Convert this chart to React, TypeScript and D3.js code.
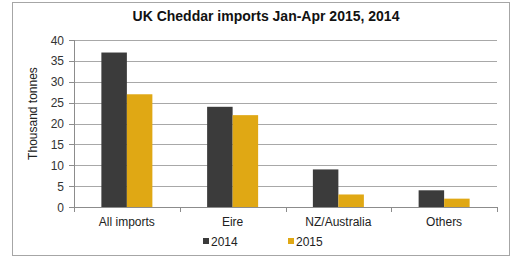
import React from "react";
import * as d3 from "d3";

const categories = ["All imports", "Eire", "NZ/Australia", "Others"];
const seriesNames = ["2014", "2015"];
const values2014 = [37, 24, 9, 4];
const values2015 = [27, 22, 3, 2];
const yTicks = [0, 5, 10, 15, 20, 25, 30, 35, 40];
const colors = ["#3b3b3b", "#e0a814"];

export default function App() {
  const W = 516, H = 261;
  const left = 74, right = 497, top = 40, bottom = 207;
  const x = d3.scaleBand().domain(categories).range([left, right]);
  const y = d3.scaleLinear().domain([0, 40]).range([bottom, top]);
  const barW = 25.5;
  const series = [values2014, values2015];
  const font = "Arial, 'Liberation Sans', sans-serif";
  return (
    <svg width={W} height={H} style={{ position: "absolute", left: 0, top: 0 }} fontFamily={font}>
      <rect x={0} y={0} width={W} height={H} fill="#fff" />
      <rect x={12.5} y={2.5} width={497} height={253} fill="#fff" stroke="#a6a6a6" strokeWidth={1} />
      <text x={266} y={21} textAnchor="middle" fontSize={14} fontWeight="bold" fill="#111">
        UK Cheddar imports Jan-Apr 2015, 2014
      </text>
      {yTicks.map((t) => (
        <g key={t}>
          {t > 0 && (
            <line x1={left} x2={right} y1={Math.round(y(t)) + 0.5} y2={Math.round(y(t)) + 0.5} stroke="#a8a8a8" strokeWidth={1} />
          )}
          <line x1={left - 5} x2={left} y1={Math.round(y(t)) + 0.5} y2={Math.round(y(t)) + 0.5} stroke="#8c8c8c" />
          <text x={left - 10} y={y(t) + 4.5} textAnchor="end" fontSize={12} fill="#333">
            {t}
          </text>
        </g>
      ))}
      {categories.map((c, i) =>
        series.map((s, j) => {
          const cx = (x(c) as number) + x.bandwidth() / 2;
          const bx = cx - barW + j * barW;
          return (
            <rect key={c + j} x={bx} y={y(s[i])} width={barW} height={y(0) - y(s[i])} fill={colors[j]} />
          );
        })
      )}
      <line x1={left + 0.5} x2={left + 0.5} y1={top} y2={bottom} stroke="#8c8c8c" />
      <line x1={left} x2={right} y1={bottom + 0.5} y2={bottom + 0.5} stroke="#8c8c8c" />
      {[...categories.map((c) => x(c) as number), right].map((v, i) => (
        <line key={i} x1={Math.round(v) + 0.5} x2={Math.round(v) + 0.5} y1={bottom} y2={bottom + 5} stroke="#8c8c8c" />
      ))}
      {categories.map((c) => (
        <text key={c} x={(x(c) as number) + x.bandwidth() / 2} y={226} textAnchor="middle" fontSize={12} fill="#222">
          {c}
        </text>
      ))}
      <text transform={`translate(37,${(top + bottom) / 2 - 10}) rotate(-90)`} textAnchor="middle" fontSize={12} fill="#222">
        Thousand tonnes
      </text>
      {seriesNames.map((n, j) => (
        <g key={n} transform={`translate(${203 + j * 85},0)`}>
          <rect x={0} y={238} width={6} height={6} fill={colors[j]} />
          <text x={8} y={246} fontSize={12} fill="#222">{n}</text>
        </g>
      ))}
    </svg>
  );
}
